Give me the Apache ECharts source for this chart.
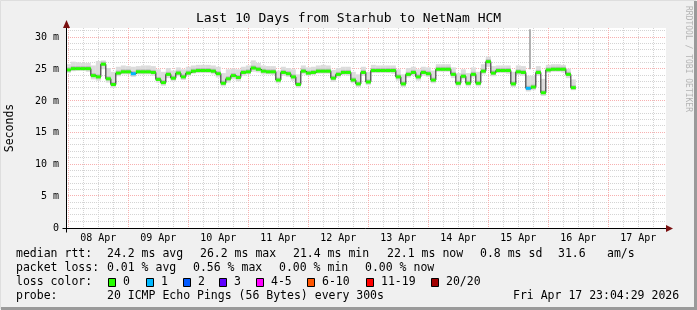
<!DOCTYPE html>
<html><head><meta charset="utf-8">
<script src="https://cdn.jsdelivr.net/npm/echarts@6/dist/echarts.min.js"></script>
<style>html,body{margin:0;padding:0;background:#f0f0f0}#c{width:697px;height:310px}</style>
</head><body><div id="c"></div><script>
// ---- data (hours are counted from 08 Apr 00:00) ----
const chartTitle = 'Last 10 Days from Starhub to NetNam HCM';
const axisStartHour = -0.933;   // Apr 7 23:04
const axisEndHour = 239.067;    // Apr 17 23:04
const dayLabels = ['08 Apr','09 Apr','10 Apr','11 Apr','12 Apr','13 Apr','14 Apr','15 Apr','16 Apr','17 Apr'];
const dayLabelHours = [12,36,60,84,108,132,156,180,204,228];
const yTickValues = [0,5,10,15,20,25,30];
const yMax = 31.5;
const sampleStepHours = 2;
const medianMs = [
 24.9,25.1,25.1,25.1,25.1,24.0,23.8,25.8,23.5,22.6,
 24.4,24.6,24.6,24.3,24.6,24.6,24.6,24.5,23.4,22.9,
 24.2,23.6,24.4,23.8,24.4,24.7,24.8,24.8,24.8,24.7,
 24.3,22.8,23.5,24.0,23.7,24.5,24.6,25.2,25.0,24.7,
 24.6,24.6,23.3,24.5,24.3,23.8,22.6,24.7,24.4,24.5,
 24.7,24.7,24.7,23.6,24.2,24.5,24.5,23.3,22.7,24.5,
 23.0,24.8,24.8,24.8,24.8,24.8,23.8,22.7,24.2,24.5,
 23.8,24.5,24.3,23.3,25.0,25.0,25.0,24.2,22.8,23.9,
 22.8,24.2,22.8,24.7,26.2,24.4,24.8,24.8,24.8,22.7,
 24.6,24.5,22.0,22.2,24.5,21.3,24.9,25.0,25.0,25.0,
 24.2,22.1];
const lossCount = [
 0,0,0,0,0,0,0,0,0,0, 0,0,0,1,0,0,0,0,0,0, 0,0,0,0,0,0,0,0,0,0,
 0,0,0,0,0,0,0,0,0,0, 0,0,0,0,0,0,0,0,0,0, 0,0,0,0,0,0,0,0,0,0,
 0,0,0,0,0,0,0,0,0,0, 0,0,0,0,0,0,0,0,0,0, 0,0,0,0,0,0,0,0,0,0,
 0,0,1,0,0,0,0,0,0,0, 0,0];
const smokeTop = [
 25.8,26.2,26.1,26.0,26.0,25.6,26.3,26.4,25.2,24.6,
 25.4,25.6,25.5,25.4,25.5,25.6,25.6,25.5,25.0,24.6,
 25.2,24.8,25.3,25.0,25.4,25.6,25.7,25.7,25.7,25.6,
 25.4,24.4,25.0,25.1,25.0,25.4,25.6,26.4,26.0,25.6,
 25.5,25.5,24.8,25.4,25.2,25.0,24.2,25.6,25.3,25.4,
 25.6,25.7,25.6,24.9,25.2,25.4,25.4,24.6,24.2,25.4,
 24.6,25.7,25.6,25.6,25.6,25.6,25.0,24.2,25.2,25.4,
 25.0,25.4,25.3,24.8,25.8,25.8,25.8,25.3,24.4,25.0,
 24.4,25.3,24.6,25.8,27.0,25.5,25.6,25.6,25.6,24.6,
 25.6,25.5,24.0,24.0,25.5,23.5,25.7,25.8,25.8,25.7,
 25.1,23.4];
const smokeBottom = [
 24.4,24.7,24.8,24.8,24.6,23.4,23.2,25.0,22.9,22.1,
 23.9,24.2,24.2,23.8,24.2,24.2,24.2,24.0,22.9,22.4,
 23.6,23.1,23.9,23.3,24.0,24.3,24.4,24.4,24.4,24.2,
 23.7,22.3,22.9,23.4,23.1,24.0,24.2,24.6,24.5,24.2,
 24.2,24.1,22.8,24.0,23.8,23.2,22.1,24.2,24.0,24.1,
 24.3,24.3,24.3,23.0,23.7,24.1,24.0,22.8,22.2,24.0,
 22.5,24.4,24.4,24.4,24.4,24.3,23.2,22.2,23.7,24.0,
 23.2,24.0,23.8,22.8,24.6,24.6,24.6,23.6,22.3,23.4,
 22.3,23.7,22.3,24.2,25.4,23.9,24.4,24.4,24.3,22.2,
 24.1,24.0,21.5,21.7,24.0,20.8,24.4,24.6,24.6,24.5,
 23.6,21.7];
const outlierHours = [184.7];
const outlierTopMs = [31.3];
const outlierBottomMs = [25.0];
const lossColors = ['#26ff00','#00b8ff','#0059ff','#5e00ff','#ff00ff','#ff5500','#ff0000','#a00000'];
const lossLabels = ['0','1','2','3','4-5','6-10','11-19','20/20'];
const statsLines = [
 [['median rtt:',16],['24.2 ms avg',107],['26.2 ms max',200],['21.4 ms min',293],['22.1 ms now',387],['0.8 ms sd',480],['31.6',558],['am/s',607]],
 [['packet loss:',16],['0.01 % avg',107],['0.56 % max',193],['0.00 % min',279],['0.00 % now',365]],
 [['loss color:',16]],
 [['probe:',16],['20 ICMP Echo Pings (56 Bytes) every 300s',107],['Fri Apr 17 23:04:29 2026',513]]
];
const lossBoxX = [108,146,183,219,256,307,366,431];
const statsLineY = [254.5,268.5,282.5,296.5];

// ---- build ----
const FONT = '"DejaVu Sans Mono", monospace';
const hours = medianMs.map((_, i) => i * sampleStepHours);
const half = sampleStepHours / 2;
const smokeData = hours.map((h, i) => [h, smokeBottom[i], smokeTop[i], medianMs[i]]);
const medData = hours.map((h, i) => [h, medianMs[i]]);
const medSegData = hours.map((h, i) => [h, medianMs[i], lossCount[i]]);
const outlierData = outlierHours.map((h, i) => [h, outlierBottomMs[i], outlierTopMs[i]]);

function clipRect(params, x, y, w, h) {
  const cs = params.coordSys;
  return echarts.graphic.clipRectByRect({x, y, width: w, height: h}, {x: cs.x, y: cs.y, width: cs.width, height: cs.height});
}

const graphics = [];
graphics.push({type:'text', x:348.5, y:19, style:{text: chartTitle, font:'13px ' + FONT, fill:'#000', align:'center', verticalAlign:'middle'}});
graphics.push({type:'text', x:10, y:128, rotation:Math.PI/2, style:{text:'Seconds', font:'11.5px ' + FONT, fill:'#000', align:'center', verticalAlign:'middle'}});
graphics.push({type:'text', x:688, y:59, rotation:-Math.PI/2, style:{text:'RRDTOOL / TOBI OETIKER', font:'8px ' + FONT, fill:'#b4b4b4', align:'center', verticalAlign:'middle'}});
statsLines.forEach((line, r) => line.forEach(([t, x]) => graphics.push({type:'text', x, y: statsLineY[r], style:{text:t, font:'11.5px ' + FONT, fill:'#000', verticalAlign:'middle'}})));
lossColors.forEach((c, i) => {
  graphics.push({type:'rect', shape:{x: lossBoxX[i] + 0.5, y: statsLineY[2] - 4, width:7, height:8}, style:{fill:c, stroke:'#000', lineWidth:1}});
  graphics.push({type:'text', x: lossBoxX[i] + 15, y: statsLineY[2], style:{text: lossLabels[i], font:'11.5px ' + FONT, fill:'#000', verticalAlign:'middle'}});
});
graphics.push({type:'polyline', shape:{points:[[0.5,309],[0.5,0.5],[696,0.5]]}, style:{stroke:'#dedede', lineWidth:1, fill:'none'}});
graphics.push({type:'polyline', shape:{points:[[1,308.5],[695.5,308.5],[695.5,1]]}, style:{stroke:'#9a9a9a', lineWidth:3, fill:'none'}});

const chart = echarts.init(document.getElementById('c'), null, {renderer:'canvas'});
const option = {
  animation: false,
  backgroundColor: '#f0f0f0',
  grid: {left: 66, right: 31, top: 28, bottom: 82, show: true, backgroundColor: '#ffffff', borderWidth: 0, containLabel: false},
  xAxis: {
    type: 'value', min: axisStartHour, max: axisEndHour,
    axisLine: {show: false}, axisTick: {show: false}, splitLine: {show: false},
    axisLabel: {customValues: dayLabelHours, margin: 5, fontSize: 10, fontFamily: FONT, color: '#000',
      formatter: v => dayLabels[dayLabelHours.indexOf(v)] || ''}
  },
  yAxis: {
    type: 'value', min: 0, max: yMax,
    axisLine: {show: false}, axisTick: {show: false}, splitLine: {show: false},
    axisLabel: {customValues: yTickValues, margin: 7, fontSize: 10, fontFamily: FONT, color: '#000',
      formatter: v => v === 0 ? '0' : v + ' m'}
  },
  series: [
    {type: 'custom', z: 2, silent: true, data: smokeData,
      renderItem: (params, api) => {
        const t = api.value(0), lo = api.value(1), hi = api.value(2), md = api.value(3);
        const a = api.coord([t - half, hi]), b = api.coord([t + half, lo]);
        const c = api.coord([t - half, Math.min(hi, md + 0.4)]), d = api.coord([t + half, Math.max(lo, md - 0.25)]);
        const outer = clipRect(params, a[0], a[1], b[0] - a[0], b[1] - a[1]);
        const inner = clipRect(params, c[0], c[1], d[0] - c[0], d[1] - c[1]);
        const kids = [];
        if (outer) kids.push({type: 'rect', shape: outer, style: {fill: '#dcdcdc'}});
        if (inner) kids.push({type: 'rect', shape: inner, style: {fill: '#bcbcbc'}});
        return {type: 'group', children: kids};
      }},
    {type: 'custom', z: 3, silent: true, data: outlierData,
      renderItem: (params, api) => {
        const a = api.coord([api.value(0), api.value(2)]), b = api.coord([api.value(0), api.value(1)]);
        return {type: 'rect', shape: {x: Math.round(a[0]) - 1, y: a[1], width: 2, height: b[1] - a[1]}, style: {fill: '#b0b0b0'}};
      }},
    {type: 'line', z: 4, silent: true, data: medData, step: 'middle', symbol: 'none',
      lineStyle: {color: '#202020', width: 1}},
    {type: 'custom', z: 5, silent: true, data: medSegData,
      renderItem: (params, api) => {
        const p1 = api.coord([api.value(0) - half, api.value(1)]);
        const p2 = api.coord([api.value(0) + half, api.value(1)]);
        const r = clipRect(params, p1[0], p1[1] - 1.5, p2[0] - p1[0], 3);
        return r && {type: 'rect', shape: r, style: {fill: lossColors[api.value(2)]}};
      }}
  ],
  graphic: graphics
};
chart.setOption(option);

// grid lines, positioned through the axis scales and snapped to whole pixels
const grid = chart.getModel().getComponent('grid', 0).coordinateSystem.getRect();
const px = (h, v) => chart.convertToPixel({gridIndex: 0}, [h, v]);
const GRAY = '#d4d4d4', RED = '#f7b0b0';
const gl = [];
function vline(h, color) { const x = Math.round(px(h, 0)[0]) + 0.5; gl.push({type:'line', z:1, silent:true, shape:{x1:x, y1:grid.y, x2:x, y2:grid.y + grid.height}, style:{stroke:color, lineWidth:1, lineDash:[1,1]}}); }
function hline(v, color) { const y = Math.round(px(0, v)[1]) - 0.5; gl.push({type:'line', z:1, silent:true, shape:{x1:grid.x, y1:y, x2:grid.x + grid.width, y2:y}, style:{stroke:color, lineWidth:1, lineDash:[1,1]}}); }
for (let h = 6; h < axisEndHour; h += 6) if (h % 24) vline(h, GRAY);
for (let v = 1; v < yMax; v++) if (v % 5) hline(v, GRAY);
for (let h = 0; h < axisEndHour; h += 24) vline(h, RED);
for (let v = 5; v < yMax; v += 5) hline(v, RED);
// axes with arrows
const x0 = Math.round(grid.x) + 0.5, yb = Math.round(grid.y + grid.height) + 0.5;
gl.push({type:'line', z:10, shape:{x1:x0, y1:grid.y - 1, x2:x0, y2:yb + 4}, style:{stroke:'#000', lineWidth:1}});
gl.push({type:'line', z:10, shape:{x1:x0 - 4, y1:yb, x2:grid.x + grid.width + 2, y2:yb}, style:{stroke:'#000', lineWidth:1}});
gl.push({type:'polygon', z:10, shape:{points:[[x0,grid.y - 8],[x0 - 3.5,grid.y],[x0 + 3.5,grid.y]]}, style:{fill:'#7a1010'}});
const xr = grid.x + grid.width;
gl.push({type:'polygon', z:10, shape:{points:[[xr + 7,yb],[xr,yb - 3.5],[xr,yb + 3.5]]}, style:{fill:'#7a1010'}});
chart.setOption({graphic: graphics.concat(gl)});
</script></body></html>
